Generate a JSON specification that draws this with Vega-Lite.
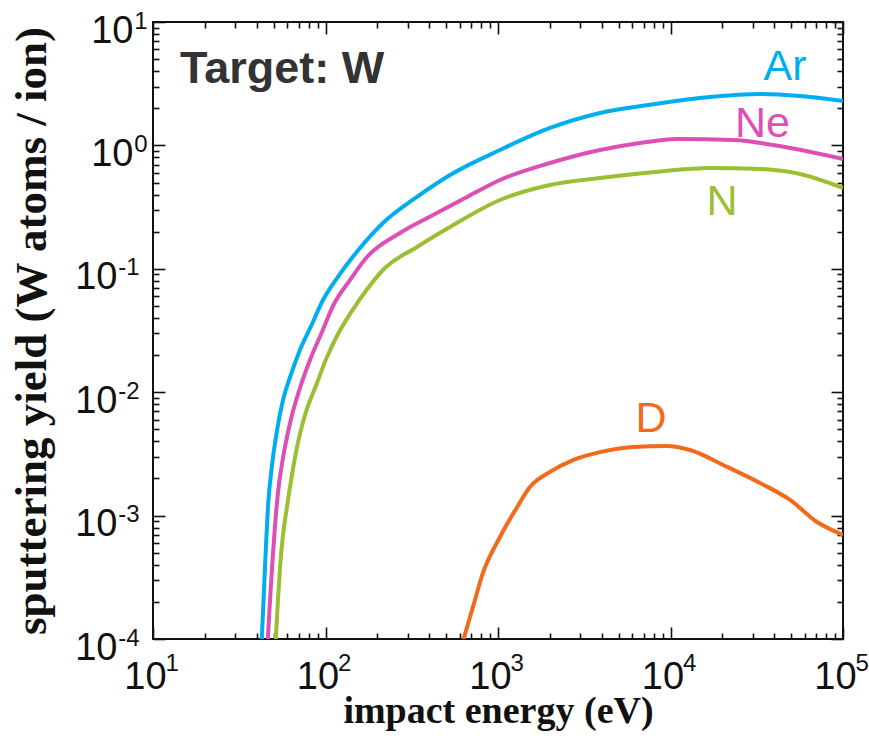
{
  "$schema": "https://vega.github.io/schema/vega-lite/v6.json",
  "width": 690,
  "height": 617,
  "autosize": "none",
  "padding": {"left": 153, "top": 22, "right": 26, "bottom": 110},
  "background": "white",
  "config": {
    "view": {"stroke": "#111", "strokeWidth": 2},
    "font": "Liberation Sans",
    "axis": {
      "grid": false, "domain": false, "ticks": true, "tickColor": "#111", "tickOpacity": 1, "tickWidth": 1.6, "zindex": 2,
      "labelFont": "Liberation Sans", "labelFontSize": 38, "labelColor": "#111",
      "labelOverlap": false, "labelFlush": false, "labelBound": false,
      "titleFont": "Liberation Sans", "titleFontWeight": "bold", "titleColor": "#111"
    }
  },
  "data": {"values": [
    {"ion": "Ar", "E": 42.56, "Y": 0.0000893},
    {"ion": "Ar", "E": 44.0, "Y": 0.000249},
    {"ion": "Ar", "E": 45.2, "Y": 0.000578},
    {"ion": "Ar", "E": 46.4, "Y": 0.001175},
    {"ion": "Ar", "E": 49.0, "Y": 0.00257},
    {"ion": "Ar", "E": 52.4, "Y": 0.00494},
    {"ion": "Ar", "E": 56.7, "Y": 0.00865},
    {"ion": "Ar", "E": 62.3, "Y": 0.01327},
    {"ion": "Ar", "E": 71.1, "Y": 0.02198},
    {"ion": "Ar", "E": 84.6, "Y": 0.03707},
    {"ion": "Ar", "E": 95.4, "Y": 0.05383},
    {"ion": "Ar", "E": 121.4, "Y": 0.0908},
    {"ion": "Ar", "E": 158.5, "Y": 0.1475},
    {"ion": "Ar", "E": 215.4, "Y": 0.235},
    {"ion": "Ar", "E": 339, "Y": 0.382},
    {"ion": "Ar", "E": 527, "Y": 0.5755},
    {"ion": "Ar", "E": 1027, "Y": 0.918},
    {"ion": "Ar", "E": 2001, "Y": 1.384},
    {"ion": "Ar", "E": 3902, "Y": 1.831},
    {"ion": "Ar", "E": 8131, "Y": 2.165},
    {"ion": "Ar", "E": 16940, "Y": 2.467},
    {"ion": "Ar", "E": 33020, "Y": 2.609},
    {"ion": "Ar", "E": 56330, "Y": 2.513},
    {"ion": "Ar", "E": 100000, "Y": 2.29},
    {"ion": "Ne", "E": 46.1, "Y": 0.0000893},
    {"ion": "Ne", "E": 47.7, "Y": 0.000207},
    {"ion": "Ne", "E": 49.0, "Y": 0.000383},
    {"ion": "Ne", "E": 50.9, "Y": 0.000808},
    {"ion": "Ne", "E": 53.0, "Y": 0.001524},
    {"ion": "Ne", "E": 56.7, "Y": 0.00293},
    {"ion": "Ne", "E": 62.3, "Y": 0.00563},
    {"ion": "Ne", "E": 71.1, "Y": 0.01081},
    {"ion": "Ne", "E": 81.3, "Y": 0.01824},
    {"ion": "Ne", "E": 95.4, "Y": 0.03076},
    {"ion": "Ne", "E": 110.5, "Y": 0.04995},
    {"ion": "Ne", "E": 138.7, "Y": 0.0811},
    {"ion": "Ne", "E": 174.0, "Y": 0.1246},
    {"ion": "Ne", "E": 270.3, "Y": 0.195},
    {"ion": "Ne", "E": 420.1, "Y": 0.2729},
    {"ion": "Ne", "E": 661.3, "Y": 0.382},
    {"ion": "Ne", "E": 1027, "Y": 0.5244},
    {"ion": "Ne", "E": 2001, "Y": 0.7202},
    {"ion": "Ne", "E": 3902, "Y": 0.918},
    {"ion": "Ne", "E": 6656, "Y": 1.046},
    {"ion": "Ne", "E": 10910, "Y": 1.127},
    {"ion": "Ne", "E": 23030, "Y": 1.106},
    {"ion": "Ne", "E": 49300, "Y": 0.953},
    {"ion": "Ne", "E": 100000, "Y": 0.776},
    {"ion": "N", "E": 51.3, "Y": 0.0000893},
    {"ion": "N", "E": 53.0, "Y": 0.000207},
    {"ion": "N", "E": 54.5, "Y": 0.000383},
    {"ion": "N", "E": 56.7, "Y": 0.000697},
    {"ion": "N", "E": 59.8, "Y": 0.001175},
    {"ion": "N", "E": 63.9, "Y": 0.00213},
    {"ion": "N", "E": 68.4, "Y": 0.0036},
    {"ion": "N", "E": 76.1, "Y": 0.00653},
    {"ion": "N", "E": 89.3, "Y": 0.01188},
    {"ion": "N", "E": 102.0, "Y": 0.01929},
    {"ion": "N", "E": 118.2, "Y": 0.02962},
    {"ion": "N", "E": 138.7, "Y": 0.043},
    {"ion": "N", "E": 176.4, "Y": 0.0699},
    {"ion": "N", "E": 215.4, "Y": 0.0978},
    {"ion": "N", "E": 339, "Y": 0.1502},
    {"ion": "N", "E": 527, "Y": 0.2182},
    {"ion": "N", "E": 1027, "Y": 0.361},
    {"ion": "N", "E": 2001, "Y": 0.4776},
    {"ion": "N", "E": 3902, "Y": 0.5442},
    {"ion": "N", "E": 8131, "Y": 0.6087},
    {"ion": "N", "E": 16940, "Y": 0.656},
    {"ion": "N", "E": 33020, "Y": 0.644},
    {"ion": "N", "E": 56330, "Y": 0.5864},
    {"ion": "N", "E": 100000, "Y": 0.4517},
    {"ion": "D", "E": 610, "Y": 0.0000845},
    {"ion": "D", "E": 716, "Y": 0.000182},
    {"ion": "D", "E": 818, "Y": 0.000343},
    {"ion": "D", "E": 1027, "Y": 0.000671},
    {"ion": "D", "E": 1290, "Y": 0.00117},
    {"ion": "D", "E": 1534, "Y": 0.00171},
    {"ion": "D", "E": 2000, "Y": 0.00226},
    {"ion": "D", "E": 2720, "Y": 0.00282},
    {"ion": "D", "E": 3900, "Y": 0.00327},
    {"ion": "D", "E": 6060, "Y": 0.0036},
    {"ion": "D", "E": 9550, "Y": 0.00367},
    {"ion": "D", "E": 12970, "Y": 0.0034},
    {"ion": "D", "E": 21300, "Y": 0.00248},
    {"ion": "D", "E": 33000, "Y": 0.00184},
    {"ion": "D", "E": 49300, "Y": 0.00134},
    {"ion": "D", "E": 70700, "Y": 0.000887},
    {"ion": "D", "E": 100000, "Y": 0.000697}
  ]},
  "layer": [
    {
      "mark": {"type": "line", "strokeWidth": 4, "clip": true, "interpolate": "monotone"},
      "encoding": {
        "x": {"field": "E", "type": "quantitative",
          "scale": {"type": "log", "domain": [10, 100000], "nice": false},
          "axis": {"orient": "bottom", "values": [10, 100, 1000, 10000, 100000], "ticks": false, "tickSize": 0,
            "labelExpr": "'10'", "labelAlign": "center", "labelBaseline": "top", "labelOffset": -8, "labelPadding": 19,
            "title": "impact energy (eV)", "titleFont": "Liberation Sans Narrow", "titleFontSize": 38, "titleX": 345, "titleY": 72, "titleAlign": "center", "titleBaseline": "middle"}},
        "y": {"field": "Y", "type": "quantitative",
          "scale": {"type": "log", "domain": [0.0001, 10], "nice": false},
          "axis": {"orient": "left", "values": [0.0001, 0.001, 0.01, 0.1], "ticks": false, "tickSize": 0,
            "labelExpr": "'10'", "labelAlign": "right", "labelBaseline": "middle", "labelOffset": 9, "labelPadding": 36,
            "title": "sputtering yield (W atoms / ion)", "titleFont": "Liberation Sans Narrow", "titleFontSize": 45, "titleX": -122, "titleY": 308.5, "titleAngle": 270, "titleAlign": "center", "titleBaseline": "middle"}},
        "color": {"field": "ion", "type": "nominal",
          "scale": {"domain": ["Ar", "Ne", "N", "D"], "range": ["#00AEEF", "#DE4FB5", "#9ABF32", "#F26A1B"]},
          "legend": null}
      }
    },
    {
      "mark": {"type": "line", "strokeOpacity": 0},
      "encoding": {
        "x": {"field": "E", "type": "quantitative",
          "scale": {"type": "log", "domain": [10, 100000], "nice": false},
          "axis": {"orient": "bottom", "values": [10, 100, 1000, 10000, 100000], "ticks": false, "tickSize": 0,
            "labelExpr": "'' + round(log(datum.value) / LN10)", "labelFontSize": 24, "labelAlign": "left", "labelBaseline": "top", "labelOffset": 12, "labelPadding": 12, "title": null}},
        "y": {"field": "Y", "type": "quantitative",
          "scale": {"type": "log", "domain": [0.0001, 10], "nice": false},
          "axis": {"orient": "left", "values": [1, 10], "ticks": false, "tickSize": 0,
            "labelExpr": "'10'", "labelAlign": "right", "labelBaseline": "middle", "labelOffset": 9, "labelPadding": 20, "title": null}},
        "detail": {"field": "ion"}
      }
    },
    {
      "mark": {"type": "line", "strokeOpacity": 0},
      "encoding": {
        "x": {"field": "E", "type": "quantitative",
          "scale": {"type": "log", "domain": [10, 100000], "nice": false},
          "axis": {"orient": "bottom", "values": [10, 100, 1000, 10000, 100000], "offset": -12, "ticks": true, "tickSize": 12, "labels": false, "title": null}},
        "y": {"field": "Y", "type": "quantitative",
          "scale": {"type": "log", "domain": [0.0001, 10], "nice": false},
          "axis": {"orient": "left", "values": [0.0001, 0.001, 0.01, 0.1], "ticks": false, "tickSize": 0,
            "labelExpr": "'' + round(log(datum.value) / LN10)", "labelFontSize": 24, "labelAlign": "right", "labelBaseline": "top", "labelOffset": -13, "labelPadding": 14, "title": null}},
        "detail": {"field": "ion"}
      }
    },
    {
      "mark": {"type": "line", "strokeOpacity": 0},
      "encoding": {
        "x": {"field": "E", "type": "quantitative",
          "scale": {"type": "log", "domain": [10, 100000], "nice": false},
          "axis": {"orient": "bottom", "values": [20, 30, 40, 50, 60, 70, 80, 90, 200, 300, 400, 500, 600, 700, 800, 900, 2000, 3000, 4000, 5000, 6000, 7000, 8000, 9000, 20000, 30000, 40000, 50000, 60000, 70000, 80000, 90000], "offset": -6, "ticks": true, "tickSize": 6, "labels": false, "title": null}},
        "y": {"field": "Y", "type": "quantitative",
          "scale": {"type": "log", "domain": [0.0001, 10], "nice": false},
          "axis": {"orient": "left", "values": [1, 10], "ticks": false, "tickSize": 0,
            "labelExpr": "'' + round(log(datum.value) / LN10)", "labelFontSize": 24, "labelAlign": "right", "labelBaseline": "top", "labelOffset": -13, "labelPadding": 6, "title": null}},
        "detail": {"field": "ion"}
      }
    },
    {
      "mark": {"type": "line", "strokeOpacity": 0},
      "encoding": {
        "x": {"field": "E", "type": "quantitative",
          "scale": {"type": "log", "domain": [10, 100000], "nice": false},
          "axis": {"orient": "top", "values": [10, 100, 1000, 10000, 100000], "offset": -12, "ticks": true, "tickSize": 12, "labels": false, "title": null}},
        "y": {"field": "Y", "type": "quantitative",
          "scale": {"type": "log", "domain": [0.0001, 10], "nice": false},
          "axis": {"orient": "left", "values": [0.0001, 0.001, 0.01, 0.1, 1, 10], "offset": -12, "ticks": true, "tickSize": 12, "labels": false, "title": null}},
        "detail": {"field": "ion"}
      }
    },
    {
      "mark": {"type": "line", "strokeOpacity": 0},
      "encoding": {
        "x": {"field": "E", "type": "quantitative",
          "scale": {"type": "log", "domain": [10, 100000], "nice": false},
          "axis": {"orient": "top", "values": [20, 30, 40, 50, 60, 70, 80, 90, 200, 300, 400, 500, 600, 700, 800, 900, 2000, 3000, 4000, 5000, 6000, 7000, 8000, 9000, 20000, 30000, 40000, 50000, 60000, 70000, 80000, 90000], "offset": -6, "ticks": true, "tickSize": 6, "labels": false, "title": null}},
        "y": {"field": "Y", "type": "quantitative",
          "scale": {"type": "log", "domain": [0.0001, 10], "nice": false},
          "axis": {"orient": "left", "values": [0.0002, 0.0003, 0.0004, 0.0005, 0.0006, 0.0007, 0.0008, 0.0009, 0.002, 0.003, 0.004, 0.005, 0.006, 0.007, 0.008, 0.009, 0.02, 0.03, 0.04, 0.05, 0.06, 0.07, 0.08, 0.09, 0.2, 0.3, 0.4, 0.5, 0.6, 0.7, 0.8, 0.9, 2, 3, 4, 5, 6, 7, 8, 9], "offset": -6, "ticks": true, "tickSize": 6, "labels": false, "title": null}},
        "detail": {"field": "ion"}
      }
    },
    {
      "mark": {"type": "line", "strokeOpacity": 0},
      "encoding": {
        "x": {"field": "E", "type": "quantitative",
          "scale": {"type": "log", "domain": [10, 100000], "nice": false}, "axis": null},
        "y": {"field": "Y", "type": "quantitative",
          "scale": {"type": "log", "domain": [0.0001, 10], "nice": false},
          "axis": {"orient": "right", "values": [0.0001, 0.001, 0.01, 0.1, 1, 10], "offset": -12, "ticks": true, "tickSize": 12, "labels": false, "title": null}},
        "detail": {"field": "ion"}
      }
    },
    {
      "mark": {"type": "line", "strokeOpacity": 0},
      "encoding": {
        "x": {"field": "E", "type": "quantitative",
          "scale": {"type": "log", "domain": [10, 100000], "nice": false}, "axis": null},
        "y": {"field": "Y", "type": "quantitative",
          "scale": {"type": "log", "domain": [0.0001, 10], "nice": false},
          "axis": {"orient": "right", "values": [0.0002, 0.0003, 0.0004, 0.0005, 0.0006, 0.0007, 0.0008, 0.0009, 0.002, 0.003, 0.004, 0.005, 0.006, 0.007, 0.008, 0.009, 0.02, 0.03, 0.04, 0.05, 0.06, 0.07, 0.08, 0.09, 0.2, 0.3, 0.4, 0.5, 0.6, 0.7, 0.8, 0.9, 2, 3, 4, 5, 6, 7, 8, 9], "offset": -6, "ticks": true, "tickSize": 6, "labels": false, "title": null}},
        "detail": {"field": "ion"}
      }
    },
    {
      "data": {"values": [
        {"ion": "Ar", "E": 46100, "Y": 3.388},
        {"ion": "Ne", "E": 34100, "Y": 1.169},
        {"ion": "N", "E": 19900, "Y": 0.273},
        {"ion": "D", "E": 7710, "Y": 0.004757}
      ]},
      "mark": {"type": "text", "fontSize": 43, "align": "center", "baseline": "alphabetic", "font": "Liberation Sans"},
      "encoding": {
        "x": {"field": "E", "type": "quantitative", "scale": {"type": "log", "domain": [10, 100000], "nice": false}, "axis": null},
        "y": {"field": "Y", "type": "quantitative", "scale": {"type": "log", "domain": [0.0001, 10], "nice": false}, "axis": null},
        "text": {"field": "ion"},
        "color": {"field": "ion", "type": "nominal",
          "scale": {"domain": ["Ar", "Ne", "N", "D"], "range": ["#00AEEF", "#DE4FB5", "#9ABF32", "#F26A1B"]},
          "legend": null}
      }
    },
    {
      "data": {"values": [{"label": "Target: W", "E": 14.34, "Y": 3.204}]},
      "mark": {"type": "text", "fontSize": 45, "fontWeight": "bold", "align": "left", "baseline": "alphabetic", "color": "#333333", "font": "Liberation Sans"},
      "encoding": {
        "x": {"field": "E", "type": "quantitative", "scale": {"type": "log", "domain": [10, 100000], "nice": false}, "axis": null},
        "y": {"field": "Y", "type": "quantitative", "scale": {"type": "log", "domain": [0.0001, 10], "nice": false}, "axis": null},
        "text": {"field": "label"}
      }
    }
  ],
  "resolve": {"axis": {"x": "independent", "y": "independent"}}
}
